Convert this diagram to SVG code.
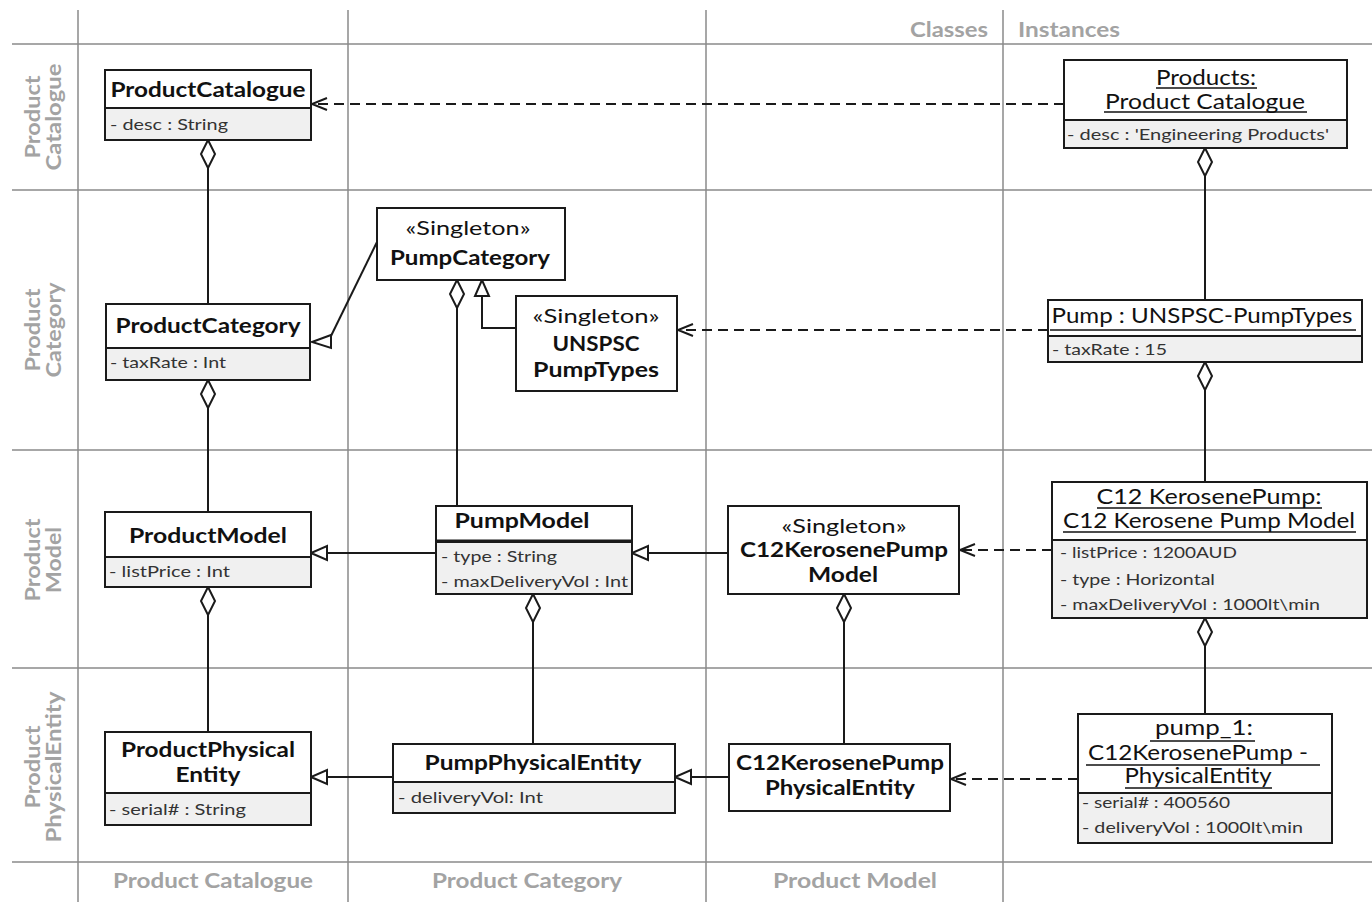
<svg xmlns="http://www.w3.org/2000/svg" width="1372" height="902" viewBox="0 0 1372 902">
  <style>
    .grid { stroke: #8a8a8a; stroke-width: 1.5; fill: none; }
    .lane { font-family: Lato, "Liberation Sans", sans-serif; font-weight: bold; font-size: 21px; fill: #a3a3a3; }
    .box { fill: #ffffff; stroke: #1a1a1a; stroke-width: 2; }
    .attrs { fill: #f0f0f0; stroke: #1a1a1a; stroke-width: 2; }
    .name { font-family: Lato, "Liberation Sans", sans-serif; font-weight: bold; font-size: 21px; fill: #111; text-anchor: middle; }
    .stereo { font-family: Lato, "Liberation Sans", sans-serif; font-size: 20px; fill: #111; text-anchor: middle; }
    .iname { font-family: Lato, "Liberation Sans", sans-serif; font-size: 21px; fill: #111; text-anchor: middle; }
    .attr { font-family: Lato, "Liberation Sans", sans-serif; font-size: 16px; fill: #333; }
    .ul { stroke: #111; stroke-width: 1.5; }
    .link { stroke: #1a1a1a; stroke-width: 2; fill: none; }
    .dep { stroke: #1a1a1a; stroke-width: 2; fill: none; stroke-dasharray: 10 6; }
  </style>
  <defs>
    <marker id="diamond" markerUnits="userSpaceOnUse" viewBox="-2 -9 32 18" markerWidth="32" markerHeight="18" refX="0" refY="0" orient="auto">
      <path d="M0,0 L14,-7 L28,0 L14,7 Z" fill="#fff" stroke="#1a1a1a" stroke-width="2" stroke-dasharray="none"/>
    </marker>
    <marker id="gen" markerUnits="userSpaceOnUse" viewBox="-19 -9 21 18" markerWidth="21" markerHeight="18" refX="0" refY="0" orient="auto">
      <path d="M0,0 L-16,-7 L-16,7 Z" fill="#fff" stroke="#1a1a1a" stroke-width="2" stroke-dasharray="none"/>
    </marker>
    <marker id="open" markerUnits="userSpaceOnUse" viewBox="-17 -9 19 18" markerWidth="19" markerHeight="18" refX="0" refY="0" orient="auto">
      <path d="M-15,-6 L0,0 L-15,6" fill="none" stroke="#1a1a1a" stroke-width="2" stroke-dasharray="none"/>
    </marker>
  </defs>

  <rect x="0" y="0" width="1372" height="902" fill="#ffffff"/>

  <!-- swimlane grid -->
  <g id="grid">
    <line class="grid" x1="12" y1="44" x2="1372" y2="44"/>
    <line class="grid" x1="12" y1="190" x2="1372" y2="190"/>
    <line class="grid" x1="12" y1="450" x2="1372" y2="450"/>
    <line class="grid" x1="12" y1="668" x2="1372" y2="668"/>
    <line class="grid" x1="12" y1="862" x2="1372" y2="862"/>
    <line class="grid" x1="78" y1="10" x2="78" y2="902"/>
    <line class="grid" x1="348" y1="10" x2="348" y2="902"/>
    <line class="grid" x1="706" y1="10" x2="706" y2="902"/>
    <line class="grid" x1="1003" y1="10" x2="1003" y2="902"/>

    <text class="lane" x="988" y="37" text-anchor="end" textLength="78" lengthAdjust="spacingAndGlyphs">Classes</text>
    <text class="lane" x="1018" y="37" textLength="102" lengthAdjust="spacingAndGlyphs">Instances</text>

    <text class="lane" x="213" y="888" text-anchor="middle" textLength="200" lengthAdjust="spacingAndGlyphs">Product Catalogue</text>
    <text class="lane" x="527" y="888" text-anchor="middle" textLength="190" lengthAdjust="spacingAndGlyphs">Product Category</text>
    <text class="lane" x="855" y="888" text-anchor="middle" textLength="164" lengthAdjust="spacingAndGlyphs">Product Model</text>

    <g transform="translate(0,117) rotate(-90)">
      <text class="lane" x="0" y="40" text-anchor="middle" textLength="83" lengthAdjust="spacingAndGlyphs">Product</text>
      <text class="lane" x="0" y="61" text-anchor="middle" textLength="107" lengthAdjust="spacingAndGlyphs">Catalogue</text>
    </g>
    <g transform="translate(0,330) rotate(-90)">
      <text class="lane" x="0" y="40" text-anchor="middle" textLength="83" lengthAdjust="spacingAndGlyphs">Product</text>
      <text class="lane" x="0" y="61" text-anchor="middle" textLength="95" lengthAdjust="spacingAndGlyphs">Category</text>
    </g>
    <g transform="translate(0,560) rotate(-90)">
      <text class="lane" x="0" y="40" text-anchor="middle" textLength="83" lengthAdjust="spacingAndGlyphs">Product</text>
      <text class="lane" x="0" y="61" text-anchor="middle" textLength="66" lengthAdjust="spacingAndGlyphs">Model</text>
    </g>
    <g transform="translate(0,767) rotate(-90)">
      <text class="lane" x="0" y="40" text-anchor="middle" textLength="83" lengthAdjust="spacingAndGlyphs">Product</text>
      <text class="lane" x="0" y="61" text-anchor="middle" textLength="151" lengthAdjust="spacingAndGlyphs">PhysicalEntity</text>
    </g>
  </g>

  <!-- connectors -->
  <g id="connectors">
    <!-- aggregations (diamond at the owning side) -->
    <line class="link" x1="208" y1="140" x2="208" y2="304" marker-start="url(#diamond)"/>
    <line class="link" x1="208" y1="380" x2="208" y2="512" marker-start="url(#diamond)"/>
    <line class="link" x1="208" y1="587" x2="208" y2="732" marker-start="url(#diamond)"/>
    <line class="link" x1="457" y1="280" x2="457" y2="506" marker-start="url(#diamond)"/>
    <line class="link" x1="533" y1="594" x2="533" y2="744" marker-start="url(#diamond)"/>
    <line class="link" x1="844" y1="594" x2="844" y2="744" marker-start="url(#diamond)"/>
    <line class="link" x1="1205" y1="148" x2="1205" y2="300" marker-start="url(#diamond)"/>
    <line class="link" x1="1205" y1="362" x2="1205" y2="482" marker-start="url(#diamond)"/>
    <line class="link" x1="1205" y1="618" x2="1205" y2="714" marker-start="url(#diamond)"/>

    <!-- generalizations -->
    <line class="link" x1="377" y1="242" x2="330" y2="338"/>
    <polygon points="312,342 331,335 331,348" fill="#fff" stroke="#1a1a1a" stroke-width="2"/>
    <polyline class="link" points="516,328 482,328 482,280" marker-end="url(#gen)"/>
    <line class="link" x1="436" y1="553" x2="311" y2="553" marker-end="url(#gen)"/>
    <line class="link" x1="728" y1="553" x2="632" y2="553" marker-end="url(#gen)"/>
    <line class="link" x1="393" y1="777" x2="311" y2="777" marker-end="url(#gen)"/>
    <line class="link" x1="729" y1="777" x2="675" y2="777" marker-end="url(#gen)"/>

    <!-- instance-of dependencies -->
    <line class="dep" x1="1064" y1="104" x2="312" y2="104" marker-end="url(#open)"/>
    <line class="dep" x1="1048" y1="330" x2="678" y2="330" marker-end="url(#open)"/>
    <line class="dep" x1="1052" y1="550" x2="960" y2="550" marker-end="url(#open)"/>
    <line class="dep" x1="1078" y1="779" x2="951" y2="779" marker-end="url(#open)"/>
  </g>

  <!-- classes -->
  <g id="ProductCatalogue">
    <rect class="box" x="105" y="70" width="206" height="38"/>
    <rect class="attrs" x="105" y="108" width="206" height="32"/>
    <text class="name" x="208" y="97" textLength="195" lengthAdjust="spacingAndGlyphs">ProductCatalogue</text>
    <text class="attr" x="110" y="130" textLength="118" lengthAdjust="spacingAndGlyphs">- desc : String</text>
  </g>

  <g id="ProductCategory">
    <rect class="box" x="106" y="304" width="204" height="44"/>
    <rect class="attrs" x="106" y="348" width="204" height="32"/>
    <text class="name" x="208" y="333" textLength="185" lengthAdjust="spacingAndGlyphs">ProductCategory</text>
    <text class="attr" x="110" y="368" textLength="116" lengthAdjust="spacingAndGlyphs">- taxRate : Int</text>
  </g>

  <g id="ProductModel">
    <rect class="box" x="105" y="512" width="206" height="45"/>
    <rect class="attrs" x="105" y="557" width="206" height="30"/>
    <text class="name" x="208" y="543" textLength="158" lengthAdjust="spacingAndGlyphs">ProductModel</text>
    <text class="attr" x="109" y="577" textLength="121" lengthAdjust="spacingAndGlyphs">- listPrice : Int</text>
  </g>

  <g id="ProductPhysicalEntity">
    <rect class="box" x="105" y="732" width="206" height="61"/>
    <rect class="attrs" x="105" y="793" width="206" height="32"/>
    <text class="name" x="208" y="757" textLength="174" lengthAdjust="spacingAndGlyphs">ProductPhysical</text>
    <text class="name" x="208" y="782" textLength="65" lengthAdjust="spacingAndGlyphs">Entity</text>
    <text class="attr" x="109" y="815" textLength="137" lengthAdjust="spacingAndGlyphs">- serial# : String</text>
  </g>

  <g id="PumpCategory">
    <rect class="box" x="377" y="208" width="188" height="72" stroke="#444"/>
    <text class="stereo" x="468" y="235" textLength="125" lengthAdjust="spacingAndGlyphs">«Singleton»</text>
    <text class="name" x="470" y="265" textLength="160" lengthAdjust="spacingAndGlyphs">PumpCategory</text>
  </g>

  <g id="UNSPSCPumpTypes">
    <rect class="box" x="516" y="296" width="161" height="95"/>
    <text class="stereo" x="596" y="323" textLength="127" lengthAdjust="spacingAndGlyphs">«Singleton»</text>
    <text class="name" x="596" y="351" textLength="87" lengthAdjust="spacingAndGlyphs">UNSPSC</text>
    <text class="name" x="596" y="377" textLength="126" lengthAdjust="spacingAndGlyphs">PumpTypes</text>
  </g>

  <g id="PumpModel">
    <rect class="box" x="436" y="506" width="196" height="36"/>
    <rect class="attrs" x="436" y="542" width="196" height="52"/>
    <line x1="436" y1="541" x2="632" y2="541" stroke="#1a1a1a" stroke-width="3"/>
    <text class="name" x="522" y="528" textLength="135" lengthAdjust="spacingAndGlyphs">PumpModel</text>
    <text class="attr" x="441" y="562" textLength="116" lengthAdjust="spacingAndGlyphs">- type : String</text>
    <text class="attr" x="441" y="587" textLength="187" lengthAdjust="spacingAndGlyphs">- maxDeliveryVol : Int</text>
  </g>

  <g id="PumpPhysicalEntity">
    <rect class="box" x="393" y="744" width="282" height="38"/>
    <rect class="attrs" x="393" y="782" width="282" height="31"/>
    <text class="name" x="533" y="770" textLength="217" lengthAdjust="spacingAndGlyphs">PumpPhysicalEntity</text>
    <text class="attr" x="398" y="803" textLength="145" lengthAdjust="spacingAndGlyphs">- deliveryVol: Int</text>
  </g>

  <g id="C12KerosenePumpModel">
    <rect class="box" x="728" y="506" width="231" height="88"/>
    <text class="stereo" x="844" y="533" textLength="125" lengthAdjust="spacingAndGlyphs">«Singleton»</text>
    <text class="name" x="844" y="557" textLength="208" lengthAdjust="spacingAndGlyphs">C12KerosenePump</text>
    <text class="name" x="843" y="582" textLength="70" lengthAdjust="spacingAndGlyphs">Model</text>
  </g>

  <g id="C12KerosenePumpPhysicalEntity">
    <rect class="box" x="729" y="744" width="221" height="67"/>
    <text class="name" x="840" y="770" textLength="208" lengthAdjust="spacingAndGlyphs">C12KerosenePump</text>
    <text class="name" x="840" y="795" textLength="150" lengthAdjust="spacingAndGlyphs">PhysicalEntity</text>
  </g>

  <!-- instances -->
  <g id="Products">
    <rect class="box" x="1064" y="60" width="283" height="60"/>
    <rect class="attrs" x="1064" y="120" width="283" height="28"/>
    <text class="iname" x="1206" y="85" textLength="100" lengthAdjust="spacingAndGlyphs">Products:</text>
    <line class="ul" x1="1156" y1="88" x2="1257" y2="88"/>
    <text class="iname" x="1205" y="109" textLength="200" lengthAdjust="spacingAndGlyphs">Product Catalogue</text>
    <line class="ul" x1="1104" y1="112" x2="1307" y2="112"/>
    <text class="attr" x="1067" y="140" textLength="262" lengthAdjust="spacingAndGlyphs">- desc : 'Engineering Products'</text>
  </g>

  <g id="PumpInstance">
    <rect class="box" x="1048" y="300" width="314" height="36"/>
    <rect class="attrs" x="1048" y="336" width="314" height="26"/>
    <text class="iname" x="1202" y="323" textLength="301" lengthAdjust="spacingAndGlyphs">Pump : UNSPSC-PumpTypes</text>
    <line class="ul" x1="1050" y1="330" x2="1356" y2="330"/>
    <text class="attr" x="1052" y="355" textLength="115" lengthAdjust="spacingAndGlyphs">- taxRate : 15</text>
  </g>

  <g id="C12KerosenePumpInstance">
    <rect class="box" x="1052" y="482" width="315" height="58"/>
    <rect class="attrs" x="1052" y="540" width="315" height="78"/>
    <text class="iname" x="1209" y="504" textLength="225" lengthAdjust="spacingAndGlyphs">C12 KerosenePump:</text>
    <line class="ul" x1="1097" y1="508" x2="1322" y2="508"/>
    <text class="iname" x="1209" y="528" textLength="292" lengthAdjust="spacingAndGlyphs">C12 Kerosene Pump Model</text>
    <line class="ul" x1="1063" y1="532" x2="1356" y2="532"/>
    <text class="attr" x="1060" y="558" textLength="177" lengthAdjust="spacingAndGlyphs">- listPrice : 1200AUD</text>
    <text class="attr" x="1060" y="585" textLength="155" lengthAdjust="spacingAndGlyphs">- type : Horizontal</text>
    <text class="attr" x="1060" y="610" textLength="260" lengthAdjust="spacingAndGlyphs">- maxDeliveryVol : 1000lt\min</text>
  </g>

  <g id="pump_1">
    <rect class="box" x="1078" y="714" width="254" height="79"/>
    <rect class="attrs" x="1078" y="793" width="254" height="50"/>
    <text class="iname" x="1204" y="735" textLength="98" lengthAdjust="spacingAndGlyphs">pump_1:</text>
    <line class="ul" x1="1150" y1="741" x2="1255" y2="741"/>
    <text class="iname" x="1198" y="760" textLength="220" lengthAdjust="spacingAndGlyphs">C12KerosenePump -</text>
    <line class="ul" x1="1086" y1="765" x2="1320" y2="765"/>
    <text class="iname" x="1198" y="783" textLength="147" lengthAdjust="spacingAndGlyphs">PhysicalEntity</text>
    <line class="ul" x1="1125" y1="788" x2="1272" y2="788"/>
    <text class="attr" x="1082" y="808" textLength="148" lengthAdjust="spacingAndGlyphs">- serial# : 400560</text>
    <text class="attr" x="1082" y="833" textLength="221" lengthAdjust="spacingAndGlyphs">- deliveryVol : 1000lt\min</text>
  </g>
</svg>
